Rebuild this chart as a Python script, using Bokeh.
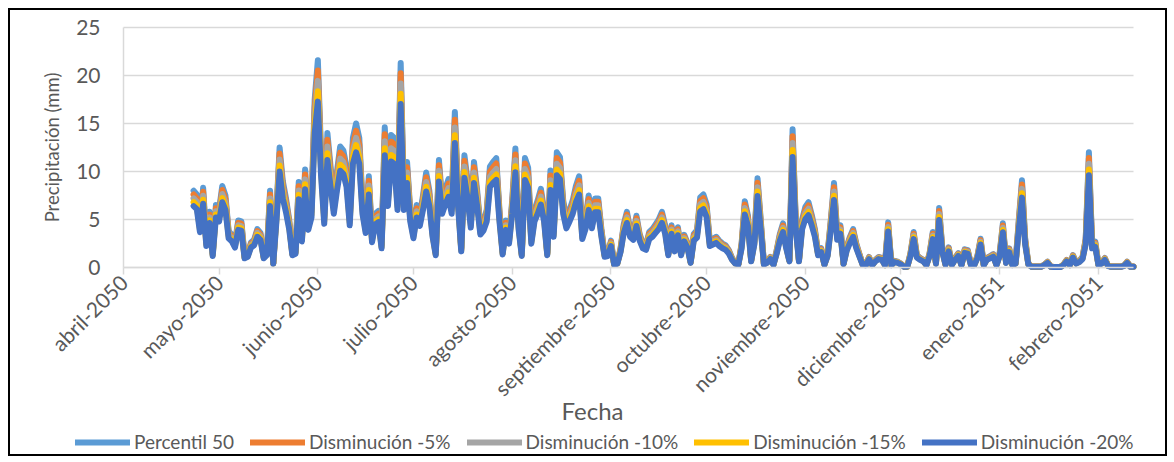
import datetime as dt
import numpy as np
from bokeh.plotting import figure
from bokeh.layouts import column, row
from bokeh.models import (Range1d, FixedTicker, Legend, LegendItem, Label, Spacer,
                          BoxAnnotation)
from bokeh.embed import file_html
from bokeh.resources import INLINE

# ---------------- data ----------------
axis_start = dt.date(2050, 4, 1)
first_date = dt.date(2050, 4, 23)

# Daily precipitation (mm), Percentil 50, from 2050-04-23 onwards
percentil_50 = [
    8.0, 7.6, 4.6, 8.3, 2.8, 5.8, 1.5, 6.5, 6.0, 8.5,
    7.5, 3.8, 3.4, 2.6, 4.9, 4.8, 1.2, 1.4, 2.6, 2.9,
    4.0, 3.6, 1.2, 1.6, 8.0, 0.5, 6.0, 12.5, 9.0, 7.2,
    5.0, 1.6, 1.8, 8.9, 3.4, 10.2, 4.9, 6.5, 17.5, 21.6,
    12.0, 5.7, 14.0, 10.5, 7.0, 10.0, 12.6, 12.2, 10.5, 5.5,
    13.5, 15.0, 13.5, 7.0, 4.5, 9.5, 3.3, 5.6, 5.9, 2.5,
    14.6, 8.0, 13.8, 13.5, 7.5, 21.3, 7.5, 11.0, 6.0, 3.8,
    6.5, 5.4, 7.5, 9.9, 8.0, 4.0, 1.6, 11.2, 7.0, 8.2,
    9.2, 7.0, 16.2, 8.0, 2.1, 11.7, 9.0, 5.2, 11.0, 8.0,
    4.3, 4.8, 6.0, 10.5, 11.0, 11.4, 6.0, 1.7, 4.9, 3.1,
    7.0, 12.4, 5.0, 1.5, 11.4, 10.4, 3.1, 6.0, 7.0, 8.2,
    6.0, 1.6, 10.1, 4.0, 12.0, 11.5, 7.0, 5.1, 6.0, 7.0,
    8.5, 9.5, 3.7, 5.0, 7.5, 5.1, 7.2, 7.2, 4.0, 1.4,
    1.5, 2.8, 0.35, 0.5, 2.0, 4.5, 5.8, 4.0, 3.6, 5.4,
    3.5, 2.5, 2.3, 3.7, 4.0, 4.5, 5.0, 5.8, 4.4, 1.6,
    4.4, 2.1, 4.2, 1.6, 3.4, 2.6, 0.6, 3.5, 3.9, 7.3,
    7.6, 6.6, 2.8, 3.0, 3.2, 2.8, 2.5, 2.3, 1.8, 1.0,
    0.5, 0.4, 2.5, 6.9, 5.4, 0.8, 3.0, 9.3, 5.0, 0.4,
    0.6, 1.1, 0.35, 1.8, 3.5, 4.6, 2.5, 0.8, 14.4, 5.0,
    0.8, 5.0, 6.3, 6.8, 5.5, 4.0, 1.6, 2.0, 0.35, 1.5,
    5.0, 8.8, 3.6, 4.4, 0.45, 2.2, 3.2, 4.0, 2.5, 1.4,
    0.35, 0.3, 1.1, 0.3, 0.8, 1.1, 1.0, 0.3, 4.7, 0.3,
    0.7, 0.6, 0.4, 0.1, 0.1, 1.5, 3.7, 1.3, 1.0, 0.8,
    0.3, 1.5, 3.7, 0.5, 6.2, 2.0, 0.35, 2.1, 0.35, 1.0,
    1.5, 0.3, 1.9, 1.8, 0.3, 0.3, 1.2, 3.0, 0.3, 1.0,
    1.2, 1.4, 0.3, 1.5, 4.6, 0.6, 2.0, 0.3, 0.5, 5.0,
    9.1, 3.0, 0.4, 0.1, 0.1, 0.1, 0.1, 0.3, 0.6, 0.1,
    0.05, 0.05, 0.05, 0.3, 0.8, 0.3, 1.3, 0.5, 0.7, 1.1,
    3.0, 12.0, 2.5, 2.7, 0.3, 0.5, 1.0, 0.2, 0.1, 0.1,
    0.1, 0.1, 0.2, 0.6, 0.1, 0.1,
]

series_names = ["Percentil 50", "Disminución -5%", "Disminución -10%",
                "Disminución -15%", "Disminución -20%"]
reduction_pct = [0, 5, 10, 15, 20]
series_colors = ["#5B9BD5", "#ED7D31", "#A5A5A5", "#FFC000", "#4472C4"]

month_starts = [dt.date(2050, m, 1) for m in range(4, 13)] + [dt.date(2051, 1, 1), dt.date(2051, 2, 1)]
month_labels = ["abril-2050", "mayo-2050", "junio-2050", "julio-2050", "agosto-2050",
                "septiembre-2050", "octubre-2050", "noviembre-2050", "diciembre-2050",
                "enero-2051", "febrero-2051"]
y_ticks = [0, 5, 10, 15, 20, 25]

# ---------------- geometry (canvas pixels) ----------------
W, H = 1159, 448
DATA_RIGHT = 1123         # where the last day sits
FR_TOP, FR_BOT = 2, 446   # frame top / bottom
AX_X = 113                # y axis (x = 0)
AX_Y = 257                # x axis (y = 0)
Y_TOP_PX = 17             # where the top tick (25) sits

offset0 = (first_date - axis_start).days
xs = [offset0 + i for i in range(len(percentil_50))]
tick_pos = [(d - axis_start).days for d in month_starts]
x_end = xs[-1]
x_scale = (DATA_RIGHT - AX_X) / x_end
x_start = -AX_X / x_scale
x_max = x_end + (W - DATA_RIGHT) / x_scale
y_top = y_ticks[-1]
y_scale = (AX_Y - Y_TOP_PX) / y_top
y_min = -(FR_BOT - AX_Y) / y_scale
y_max = y_top + (Y_TOP_PX - FR_TOP) / y_scale

FONT = "Lato"
TXT = "#595959"
GRID = "#D9D9D9"

fig = figure(width=W, height=H, output_backend="svg", toolbar_location=None,
             x_range=Range1d(x_start, x_max), y_range=Range1d(y_min, y_max),
             min_border_left=0, min_border_right=0,
             min_border_top=FR_TOP, min_border_bottom=H - FR_BOT)
fig.styles = {"border": "2px solid black"}
fig.outline_line_color = None
fig.background_fill_color = "white"
fig.border_fill_color = "white"

items = []
for name, red, col in zip(series_names, reduction_pct, series_colors):
    ys = [v * (100 - red) / 100.0 for v in percentil_50]
    r = fig.line(xs, ys, line_color=col, line_width=6,
                 line_join="round", line_cap="round")
    items.append(LegendItem(label=name, renderers=[r]))

# x axis, fixed at y = 0
xa = fig.xaxis[0]
xa.fixed_location = 0
xa.bounds = (0, x_end)
xa.ticker = FixedTicker(ticks=tick_pos)
xa.major_label_overrides = {t: lab for t, lab in zip(tick_pos, month_labels)}
xa.major_label_orientation = np.pi / 4
xa.major_label_text_font = FONT
xa.major_label_text_font_size = "21px"
xa.major_label_text_color = TXT
xa.major_label_standoff = 4
xa.axis_line_color = GRID
xa.axis_line_width = 1.5
xa.major_tick_line_color = GRID
xa.major_tick_line_width = 1.5
xa.major_tick_out = 7
xa.major_tick_in = 0
xa.minor_tick_line_color = None
fig.xgrid.grid_line_color = None

# y axis, fixed at x = 0
ya = fig.yaxis[0]
ya.fixed_location = 0
ya.bounds = (0, y_top)
ya.ticker = FixedTicker(ticks=y_ticks)
ya.major_label_text_font = FONT
ya.major_label_text_font_size = "21px"
ya.major_label_text_color = TXT
ya.major_label_standoff = 23
ya.major_tick_line_color = None
ya.major_tick_out = 0
ya.major_tick_in = 0
ya.minor_tick_line_color = None
ya.axis_line_color = GRID
ya.axis_line_width = 1.5
ya.axis_label = "Precipitación (mm)"
ya.axis_label_text_font = FONT
ya.axis_label_text_font_size = "18.5px"
ya.axis_label_text_font_style = "normal"
ya.axis_label_text_color = TXT
ya.axis_label_standoff = 10
yg = fig.ygrid[0]
yg.grid_line_color = GRID
yg.grid_line_width = 1.5
try:
    yg.cross_bounds = (0, x_end)
except Exception:
    fig.add_layout(BoxAnnotation(left=x_start, right=0, bottom=-1, top=y_top + 1,
                                 fill_color="white", fill_alpha=1, line_alpha=0,
                                 level="glyph"))
    fig.add_layout(BoxAnnotation(left=x_end, right=x_max, bottom=-1, top=y_top + 1,
                                 fill_color="white", fill_alpha=1, line_alpha=0,
                                 level="glyph"))

# x-axis title (screen px relative to frame bottom-left)
fig.add_layout(Label(x=582, y=FR_BOT - 400, x_units="screen", y_units="screen",
                     text="Fecha", text_align="center", text_baseline="middle",
                     text_font=FONT, text_font_size="24px", text_color=TXT))

legend = Legend(items=items, orientation="horizontal", location=(65, 3),
                glyph_width=55, glyph_height=22, label_standoff=4, spacing=16,
                padding=0, margin=0, border_line_color=None,
                background_fill_alpha=0,
                label_text_font=FONT, label_text_font_size="19px",
                label_text_color=TXT)
fig.add_layout(legend)

p = column(Spacer(height=8), row(Spacer(width=8), fig))

open("out.html", "w").write(file_html(p, INLINE))
